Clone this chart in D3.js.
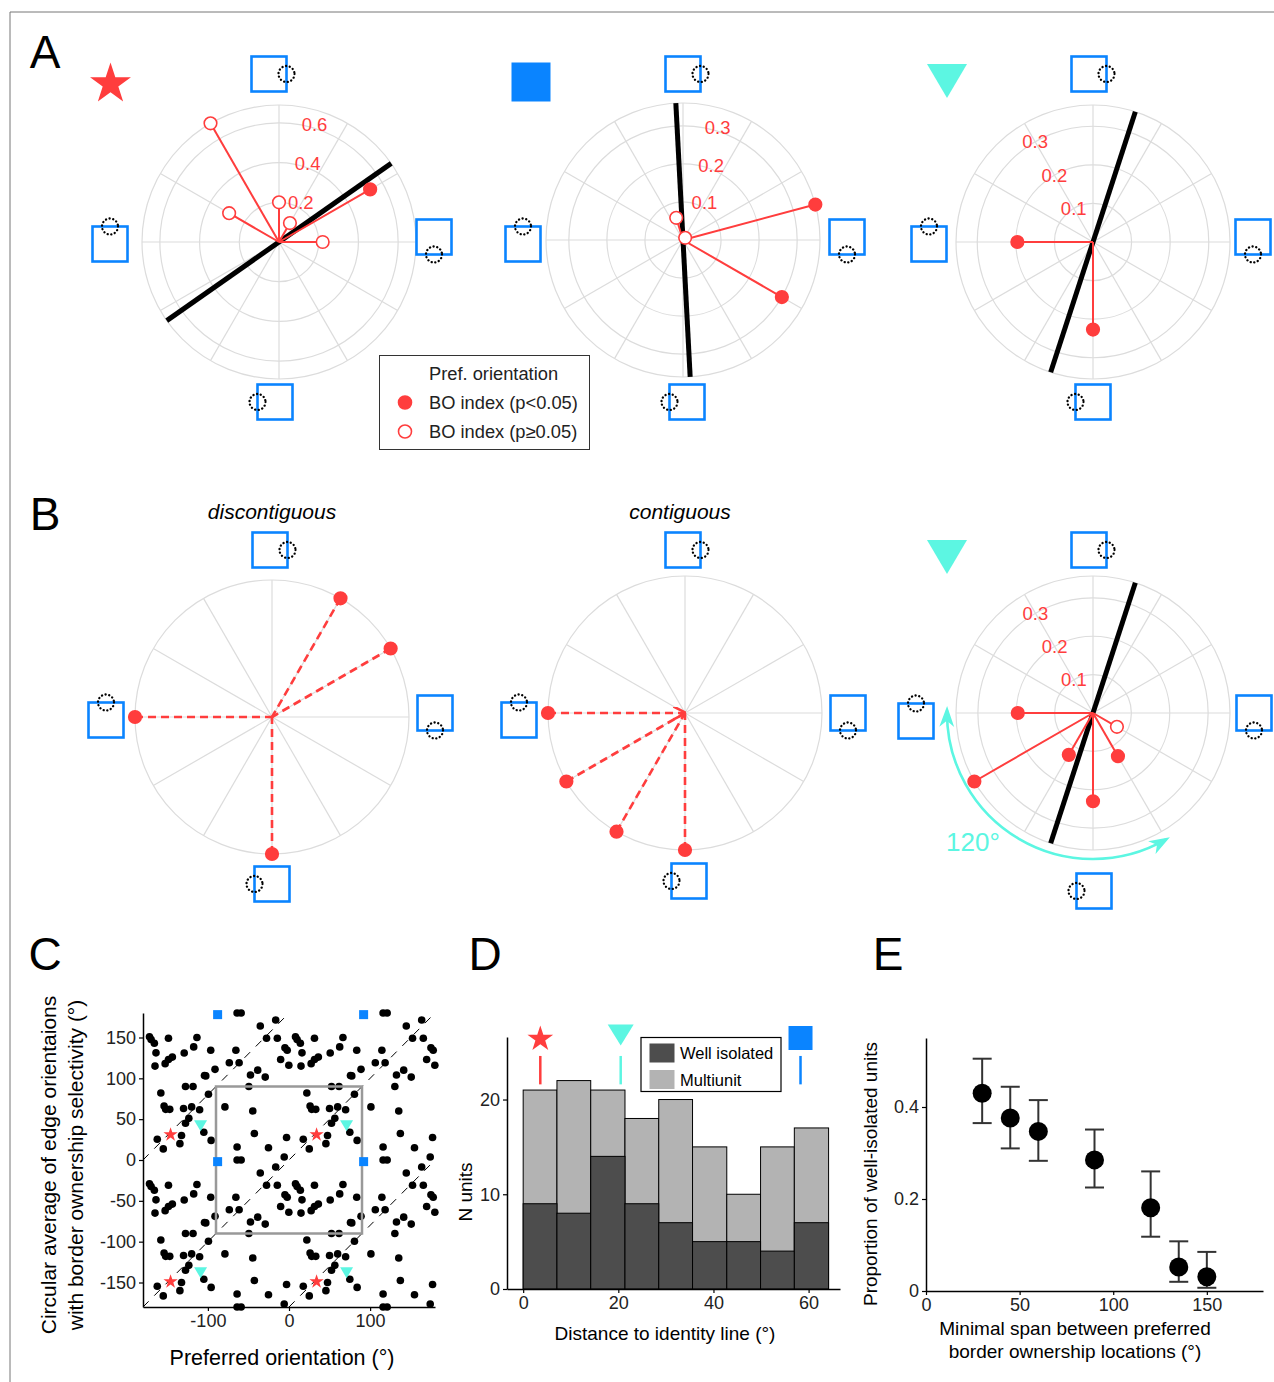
<!DOCTYPE html>
<html>
<head>
<meta charset="utf-8">
<script src="https://cdn.jsdelivr.net/npm/d3@7"></script>
<style>
body { margin: 0; background: #fff; }
svg text { font-family: "Liberation Sans", Arial, sans-serif; }
</style>
</head>
<body>
<svg id="fig" width="1274" height="1382"></svg>
<script>
// ---------- data ----------
// panel A, polar plots: BO index per border-ownership location (deg)
let a1Angles = [0, 30, 60, 90, 120, 150];
let a1Values = [0.22, 0.53, 0.11, 0.20, 0.69, 0.29];
let a1Sig = [false, true, false, false, false, false];
let a1Pref = 35;
let a1Ticks = [0.2, 0.4, 0.6];

let a2Angles = [15, 330, 107, 45];
let a2Values = [0.36, 0.30, 0.061, 0.008];
let a2Sig = [true, true, false, false];
let a2Pref = 93;
let a2Ticks = [0.1, 0.2, 0.3];

let a3Angles = [180, 270];
let a3Values = [0.196, 0.227];
let a3Sig = [true, true];
let a3Pref = 72;
let a3Ticks = [0.1, 0.2, 0.3];

// panel B
let b1Angles = [60, 30, 180, 270];
let b2Angles = [180, 210, 240, 270];

let b3Angles = [180, 210, 240, 270, 300, 330];
let b3Values = [0.196, 0.357, 0.126, 0.23, 0.13, 0.072];
let b3Sig = [true, true, true, true, true, false];
let b3Pref = 72;
let b3Ticks = [0.1, 0.2, 0.3];
let b3Span = [179, 300];

// panel C: points inside the central box, the plot repeats them every 180 deg
let scatterBase = [
    [-79, 65], [-49.5, 90], [-44.7, 60], [-42.7, 32.5], [-64, 16], [-25.3, 15], [-3, 27.5],
    [22, 82], [26, 66], [28, 62], [33, 62], [25, 13.6], [47.5, 30], [45.5, 20], [50, 63],
    [60, 65], [52.4, 90], [61.7, 90], [56.5, 51], [52.4, 45], [69.8, 61.5], [80.7, 80.6],
    [75, 34], [84, 24], [17.6, 25.5],
    [-64, 0], [-59, 0], [-35.4, -16], [-16.4, -8.6], [-5.9, 3.7], [-27.7, -31], [-14.4, -31],
    [-65.5, -45.6], [-73.6, -61], [-61.5, -61], [-47.5, -76], [-38.6, -70], [-29.3, -78.5],
    [-5, -42.7], [-2.2, -45.6], [-10.3, -57], [-0.2, -64], [8, -29], [10, -32.4], [14, -37],
    [16, -48.8], [14.8, -65], [27.3, -62], [31.4, -57], [36.2, -54], [31.4, -31], [50.8, -49],
    [62.5, -41.5], [66.5, -30], [83.5, -45.6], [75.8, -76.5], [77.4, -77], [88.8, -69]
];
let starUnit = [34, 31];
let triangleUnit = [71, 42];
let squareUnit = [-88, -2];
let identityOffsets = [-180, 0, 180];

// panel D
let binEdges = [0, 7.1, 14.2, 21.4, 28.5, 35.6, 42.8, 49.9, 57.0, 64.2];
let totalCounts = [21, 22, 21, 18, 20, 15, 10, 15, 17];
let wellIsolated = [9, 8, 14, 9, 7, 5, 5, 4, 7];
let exampleDist = [3.6, 20.5, 58.3];   // star, triangle, square

// panel E
let spanX = [30, 45, 60, 90, 120, 135, 150];
let propWell = [0.43, 0.376, 0.347, 0.285, 0.181, 0.052, 0.031];
let errLow = [0.365, 0.31, 0.283, 0.225, 0.118, 0.02, 0.007];
let errHigh = [0.505, 0.444, 0.415, 0.351, 0.26, 0.108, 0.085];

// ---------- styles ----------
let RED = "#ff3d3d", BLUE = "#0a84ff", CYAN = "#5cf6e2";
let R = 137;

let svg = d3.select("#fig");

svg.append("defs").html(
    '<marker id="cyanHead" viewBox="0 0 14 10" refX="11" refY="5" markerWidth="8" markerHeight="6" orient="auto-start-reverse" markerUnits="strokeWidth">' +
    '<path d="M0,0 L14,5 L0,10 L4,5 Z" fill="' + CYAN + '"/></marker>' +
    '<marker id="redHead" viewBox="0 0 10 10" refX="9" refY="5" markerWidth="5" markerHeight="5" orient="auto" markerUnits="strokeWidth">' +
    '<path d="M0,0 L10,5 L0,10" fill="none" stroke="' + RED + '" stroke-width="2"/></marker>');

// frame
svg.append("line").attr("x1", 10).attr("y1", 12).attr("x2", 1274).attr("y2", 12).attr("stroke", "#777").attr("stroke-width", 1);
svg.append("line").attr("x1", 10).attr("y1", 12).attr("x2", 10).attr("y2", 1382).attr("stroke", "#777").attr("stroke-width", 1);

// panel letters
[["A", 45, 68], ["B", 45, 530], ["C", 45, 970], ["D", 485, 970], ["E", 888, 970]].forEach(function(p) {
    svg.append("text").attr("x", p[1]).attr("y", p[2]).attr("text-anchor", "middle")
        .style("font-size", "46px").text(p[0]);
});

function starPath(outer) {
    return d3.symbol(d3.symbolStar, outer * outer / 0.8908130915292852)();
}
function triPath(w, h) {
    return "M" + (-w / 2) + "," + (-h / 2) + "L" + (w / 2) + "," + (-h / 2) + "L0," + (h / 2) + "Z";
}

// square stimulus icon with dotted receptive field
function icon(g, x, y, side) {
    let s = 35, h = s / 2;
    g.append("rect").attr("x", x - h).attr("y", y - h).attr("width", s).attr("height", s)
        .attr("fill", "none").attr("stroke", BLUE).attr("stroke-width", 2.6);
    let off = {top: [h, 0], right: [0, h], left: [0, -h], bottom: [-h, 0]}[side];
    g.append("circle").attr("cx", x + off[0]).attr("cy", y + off[1]).attr("r", 8)
        .attr("fill", "none").attr("stroke", "#000").attr("stroke-width", 2.3)
        .attr("stroke-linecap", "round").attr("stroke-dasharray", "0.1,3.6");
}

function drawPolar(cx, cy, angles, values, sig, opt) {
    let g = svg.append("g").attr("transform", "translate(" + cx + "," + cy + ")");
    let r = d3.scaleLinear().domain([0, opt.rmax]).range([0, R]);
    let pt = function(a, v) {
        let t = a * Math.PI / 180;
        return [r(v) * Math.cos(t), -r(v) * Math.sin(t)];
    };

    // grid
    (opt.ticks || []).forEach(function(t) {
        g.append("circle").attr("r", r(t)).attr("fill", "none").attr("stroke", "#dcdcdc").attr("stroke-width", 1.2);
    });
    g.append("circle").attr("r", R).attr("fill", "none").attr("stroke", "#dcdcdc").attr("stroke-width", 1.2);
    d3.range(0, 360, 30).forEach(function(a) {
        let p = pt(a, opt.rmax);
        g.append("line").attr("x1", 0).attr("y1", 0).attr("x2", p[0]).attr("y2", p[1])
            .attr("stroke", "#dcdcdc").attr("stroke-width", 1.2);
    });

    // radial tick labels
    (opt.ticks || []).forEach(function(t) {
        let p = pt(opt.labelAngle, t);
        g.append("text").attr("x", p[0] + (opt.labelAnchor === "start" ? 2 : 0)).attr("y", p[1])
            .attr("text-anchor", opt.labelAnchor).attr("dominant-baseline", "central")
            .attr("fill", RED).style("font-size", "18.5px").text(t);
    });

    // preferred orientation
    if (opt.pref !== undefined) {
        let p1 = pt(opt.pref, opt.rmax), p2 = pt(opt.pref + 180, opt.rmax);
        g.append("line").attr("x1", p1[0]).attr("y1", p1[1]).attr("x2", p2[0]).attr("y2", p2[1])
            .attr("stroke", "#000").attr("stroke-width", 5);
    }

    // BO index spokes
    angles.forEach(function(a, i) {
        let p = pt(a, values[i]);
        let ln = g.append("line").attr("x1", p[0]).attr("y1", p[1]).attr("x2", 0).attr("y2", 0)
            .attr("stroke", RED).attr("stroke-width", opt.dashed ? 2.6 : 2);
        if (opt.dashed) ln.attr("stroke-dasharray", "8,5");
        if (opt.arrowIndex === i) ln.attr("marker-end", "url(#redHead)");
    });
    angles.forEach(function(a, i) {
        let p = pt(a, values[i]);
        g.append("circle").attr("cx", p[0]).attr("cy", p[1]).attr("r", 6.3)
            .attr("fill", sig[i] ? RED : "#fff").attr("stroke", RED).attr("stroke-width", 1.6);
    });

    // span arc
    if (opt.span) {
        let ar = 146, path = d3.path();
        path.arc(0, 0, ar, -opt.span[0] * Math.PI / 180, -opt.span[1] * Math.PI / 180, true);
        g.append("path").attr("d", path.toString()).attr("fill", "none").attr("stroke", CYAN)
            .attr("stroke-width", 2.6).attr("marker-start", "url(#cyanHead)").attr("marker-end", "url(#cyanHead)");
        g.append("text").attr("x", -120).attr("y", 129).attr("text-anchor", "middle")
            .attr("dominant-baseline", "central").attr("fill", CYAN).style("font-size", "26px")
            .text(opt.spanLabel);
    }

    // stimulus icons: top, right, left, bottom offsets from the centre
    let ic = opt.icons;
    icon(g, ic[0][0], ic[0][1], "top");
    icon(g, ic[1][0], ic[1][1], "right");
    icon(g, ic[2][0], ic[2][1], "left");
    icon(g, ic[3][0], ic[3][1], "bottom");
    return g;
}

// ---------- panel A ----------
drawPolar(279, 242, a1Angles, a1Values, a1Sig,
    {rmax: 0.69, ticks: a1Ticks, pref: a1Pref, labelAngle: 80, labelAnchor: "start",
     icons: [[-10, -168], [155, -5], [-169, 2], [-4, 160]]});
drawPolar(683, 240, a2Angles, a2Values, a2Sig,
    {rmax: 0.36, ticks: a2Ticks, pref: a2Pref, labelAngle: 80, labelAnchor: "start",
     icons: [[0, -166], [164, -3], [-160, 4], [4, 162]]});
drawPolar(1093, 242, a3Angles, a3Values, a3Sig,
    {rmax: 0.355, ticks: a3Ticks, pref: a3Pref, labelAngle: 120, labelAnchor: "middle",
     icons: [[-4, -168], [160, -5], [-164, 2], [0, 160]]});

svg.append("path").attr("d", starPath(21.5)).attr("transform", "translate(110.5,84)").attr("fill", RED);
svg.append("rect").attr("x", 511.5).attr("y", 62.5).attr("width", 39).attr("height", 39).attr("fill", BLUE);
svg.append("path").attr("d", triPath(40, 34)).attr("transform", "translate(947,81)").attr("fill", CYAN);

// legend A
let legA = svg.append("g");
legA.append("rect").attr("x", 379.5).attr("y", 355.5).attr("width", 210).attr("height", 94)
    .attr("fill", "#fff").attr("stroke", "#333").attr("stroke-width", 1);
[["Pref. orientation", null], ["BO index (p<0.05)", true], ["BO index (p\u22650.05)", false]].forEach(function(e, i) {
    let y = 373.5 + i * 29;
    legA.append("text").attr("x", 429).attr("y", y).attr("dominant-baseline", "central")
        .style("font-size", "18.3px").attr("fill", "#222").text(e[0]);
    if (e[1] !== null) {
        legA.append("circle").attr("cx", 405).attr("cy", y).attr("r", 6.5)
            .attr("fill", e[1] ? RED : "#fff").attr("stroke", RED).attr("stroke-width", 1.6);
    }
});

// ---------- panel B ----------
drawPolar(272, 717, b1Angles, b1Angles.map(function() { return 1; }), b1Angles.map(function() { return true; }),
    {rmax: 1, dashed: true, icons: [[-2, -167], [163, -4], [-166, 3], [0, 167]]});
drawPolar(685, 713, b2Angles, b2Angles.map(function() { return 1; }), b2Angles.map(function() { return true; }),
    {rmax: 1, dashed: true, arrowIndex: 0, icons: [[-2, -163], [163, 0], [-166, 7], [4, 168]]});
drawPolar(1093, 713, b3Angles, b3Values, b3Sig,
    {rmax: 0.357, ticks: b3Ticks, pref: b3Pref, labelAngle: 120, labelAnchor: "middle",
     span: b3Span, spanLabel: "120\u00b0", icons: [[-4, -163], [161, 0], [-177, 8], [1, 178]]});

svg.append("text").attr("x", 272).attr("y", 511).attr("text-anchor", "middle").attr("dominant-baseline", "central")
    .style("font-size", "21px").style("font-style", "italic").text("discontiguous");
svg.append("text").attr("x", 680).attr("y", 511).attr("text-anchor", "middle").attr("dominant-baseline", "central")
    .style("font-size", "21px").style("font-style", "italic").text("contiguous");
svg.append("path").attr("d", triPath(40, 34)).attr("transform", "translate(947,557)").attr("fill", CYAN);

// ---------- panel C ----------
function tile(p) {
    let out = [];
    identityOffsets.forEach(function(dx) {
        identityOffsets.forEach(function(dy) {
            let x = p[0] + dx, y = p[1] + dy;
            if (x >= -180 && x <= 180 && y >= -180 && y <= 180) out.push([x, y]);
        });
    });
    return out;
}

let xC = d3.scaleLinear().domain([-180, 180]).range([143, 435]);
let yC = d3.scaleLinear().domain([-180, 180]).range([1307, 1013]);
let gC = svg.append("g");

identityOffsets.forEach(function(o) {
    let x0 = Math.max(-180, -180 - o), x1 = Math.min(180, 180 - o);
    gC.append("line").attr("x1", xC(x0)).attr("y1", yC(x0 + o)).attr("x2", xC(x1)).attr("y2", yC(x1 + o))
        .attr("stroke", "#000").attr("stroke-width", 1).attr("stroke-dasharray", "8,8");
});

let scatterAll = [];
scatterBase.forEach(function(p) { scatterAll = scatterAll.concat(tile(p)); });
gC.selectAll("circle.dot").data(scatterAll).enter().append("circle").attr("class", "dot")
    .attr("cx", function(d) { return xC(d[0]); }).attr("cy", function(d) { return yC(d[1]); })
    .attr("r", 3.8).attr("fill", "#000");

gC.append("rect").attr("x", xC(-90)).attr("y", yC(90)).attr("width", xC(90) - xC(-90)).attr("height", yC(-90) - yC(90))
    .attr("fill", "none").attr("stroke", "#999").attr("stroke-width", 2.5);

tile(starUnit).forEach(function(p) {
    gC.append("path").attr("d", starPath(7.5)).attr("transform", "translate(" + xC(p[0]) + "," + yC(p[1]) + ")").attr("fill", RED);
});
tile(triangleUnit).forEach(function(p) {
    gC.append("path").attr("d", triPath(13, 11)).attr("transform", "translate(" + xC(p[0]) + "," + yC(p[1]) + ")").attr("fill", CYAN);
});
tile(squareUnit).forEach(function(p) {
    gC.append("rect").attr("x", xC(p[0]) - 4.5).attr("y", yC(p[1]) - 4.5).attr("width", 9).attr("height", 9).attr("fill", BLUE);
});

gC.append("g").attr("transform", "translate(0,1307)")
    .call(d3.axisBottom(xC).tickValues([-100, 0, 100]).tickSize(4).tickSizeOuter(0).tickFormat(function(d) { return String(d); }));
gC.append("g").attr("transform", "translate(143,0)")
    .call(d3.axisLeft(yC).tickValues([-150, -100, -50, 0, 50, 100, 150]).tickSize(4).tickSizeOuter(0).tickFormat(function(d) { return String(d); }));

gC.append("text").attr("transform", "translate(48,1165) rotate(-90)").attr("text-anchor", "middle")
    .attr("dominant-baseline", "central").style("font-size", "21px").text("Circular average of edge orientaions");
gC.append("text").attr("transform", "translate(75,1165) rotate(-90)").attr("text-anchor", "middle")
    .attr("dominant-baseline", "central").style("font-size", "21px").text("with border ownership selectivity (\u00b0)");
gC.append("text").attr("x", 282).attr("y", 1358).attr("text-anchor", "middle")
    .attr("dominant-baseline", "central").style("font-size", "21.5px").text("Preferred orientation (\u00b0)");

// ---------- panel D ----------
let xD = d3.scaleLinear().domain([-3.4, 66.6]).range([507, 840]);
let yD = d3.scaleLinear().domain([0, 26.6]).range([1289, 1037]);
let gD = svg.append("g");

totalCounts.forEach(function(c, i) {
    gD.append("rect").attr("x", xD(binEdges[i])).attr("y", yD(c))
        .attr("width", xD(binEdges[i + 1]) - xD(binEdges[i])).attr("height", yD(0) - yD(c))
        .attr("fill", "#b3b3b3").attr("stroke", "#000").attr("stroke-width", 1);
});
wellIsolated.forEach(function(c, i) {
    gD.append("rect").attr("x", xD(binEdges[i])).attr("y", yD(c))
        .attr("width", xD(binEdges[i + 1]) - xD(binEdges[i])).attr("height", yD(0) - yD(c))
        .attr("fill", "#4d4d4d").attr("stroke", "#000").attr("stroke-width", 1);
});

gD.append("g").attr("transform", "translate(0,1289)")
    .call(d3.axisBottom(xD).tickValues([0, 20, 40, 60]).tickSize(4).tickSizeOuter(0));
gD.append("g").attr("transform", "translate(507,0)")
    .call(d3.axisLeft(yD).tickValues([0, 10, 20]).tickSize(4).tickSizeOuter(0));

let exColors = [RED, CYAN, BLUE];
exampleDist.forEach(function(v, i) {
    gD.append("line").attr("x1", xD(v)).attr("x2", xD(v)).attr("y1", yD(24.6)).attr("y2", yD(21.6))
        .attr("stroke", exColors[i]).attr("stroke-width", 2.5);
});
gD.append("path").attr("d", starPath(13.5)).attr("transform", "translate(" + xD(exampleDist[0]) + ",1039)").attr("fill", RED);
gD.append("path").attr("d", triPath(26, 21)).attr("transform", "translate(" + xD(exampleDist[1]) + ",1035)").attr("fill", CYAN);
gD.append("rect").attr("x", xD(exampleDist[2]) - 12).attr("y", 1026).attr("width", 24).attr("height", 24).attr("fill", BLUE);

let legD = gD.append("g");
legD.append("rect").attr("x", 641).attr("y", 1037.5).attr("width", 140).attr("height", 54)
    .attr("fill", "#fff").attr("stroke", "#000").attr("stroke-width", 1.2);
[["Well isolated", "#4d4d4d"], ["Multiunit", "#b3b3b3"]].forEach(function(e, i) {
    let y = 1053 + i * 26.5;
    legD.append("rect").attr("x", 649.5).attr("y", y - 9.5).attr("width", 25).attr("height", 19).attr("fill", e[1]);
    legD.append("text").attr("x", 680).attr("y", y).attr("dominant-baseline", "central")
        .style("font-size", "16.5px").text(e[0]);
});

gD.append("text").attr("transform", "translate(465,1192) rotate(-90)").attr("text-anchor", "middle")
    .attr("dominant-baseline", "central").style("font-size", "19px").text("N units");
gD.append("text").attr("x", 665).attr("y", 1333).attr("text-anchor", "middle")
    .attr("dominant-baseline", "central").style("font-size", "19px").text("Distance to identity line (\u00b0)");

// ---------- panel E ----------
let xE = d3.scaleLinear().domain([0, 180]).range([926, 1263]);
let yE = d3.scaleLinear().domain([0, 0.55]).range([1291, 1038]);
let gE = svg.append("g");

gE.append("g").attr("transform", "translate(0,1291)")
    .call(d3.axisBottom(xE).tickValues([0, 50, 100, 150]).tickSize(4).tickSizeOuter(0));
gE.append("g").attr("transform", "translate(926,0)")
    .call(d3.axisLeft(yE).tickValues([0, 0.2, 0.4]).tickSize(4).tickSizeOuter(0).tickFormat(function(d) { return String(d); }));

spanX.forEach(function(x, i) {
    let px = xE(x);
    gE.append("line").attr("x1", px).attr("x2", px).attr("y1", yE(errLow[i])).attr("y2", yE(errHigh[i]))
        .attr("stroke", "#333").attr("stroke-width", 2);
    [errLow[i], errHigh[i]].forEach(function(v) {
        gE.append("line").attr("x1", px - 9.5).attr("x2", px + 9.5).attr("y1", yE(v)).attr("y2", yE(v))
            .attr("stroke", "#333").attr("stroke-width", 2);
    });
});
gE.selectAll("circle.pt").data(spanX).enter().append("circle").attr("class", "pt")
    .attr("cx", function(d) { return xE(d); }).attr("cy", function(d, i) { return yE(propWell[i]); })
    .attr("r", 9.5).attr("fill", "#000");

gE.append("text").attr("transform", "translate(870,1174) rotate(-90)").attr("text-anchor", "middle")
    .attr("dominant-baseline", "central").style("font-size", "19px").text("Proportion of well-isolated units");
gE.append("text").attr("x", 1075).attr("y", 1328).attr("text-anchor", "middle")
    .attr("dominant-baseline", "central").style("font-size", "19px").text("Minimal span between preferred");
gE.append("text").attr("x", 1075).attr("y", 1351).attr("text-anchor", "middle")
    .attr("dominant-baseline", "central").style("font-size", "19px").text("border ownership locations (\u00b0)");

// shared axis styling
svg.selectAll(".domain").attr("stroke", "#000").attr("stroke-width", 1.5);
svg.selectAll(".tick line").attr("stroke", "#000").attr("stroke-width", 1.2);
svg.selectAll(".tick text").style("font-size", "18px").attr("fill", "#222")
    .style("font-family", "'Liberation Sans', Arial, sans-serif");
</script>
</body>
</html>
